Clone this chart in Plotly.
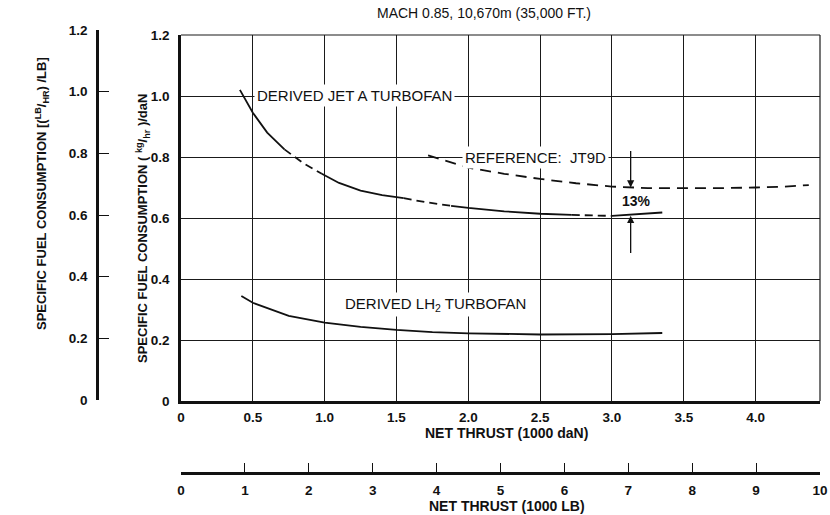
import plotly.graph_objects as go

# ---------------- data ----------------
# Derived Jet A turbofan: SFC (kg/hr)/daN vs net thrust (1000 daN)
jet_a_x = [0.41, 0.50, 0.60, 0.72, 0.85, 0.98, 1.10, 1.25, 1.40, 1.55,
           1.70, 1.88, 2.00, 2.25, 2.50, 2.72, 2.85, 3.00, 3.20, 3.35]
jet_a_y = [1.02, 0.945, 0.88, 0.825, 0.78, 0.745, 0.715, 0.69, 0.675, 0.665,
           0.652, 0.64, 0.633, 0.622, 0.614, 0.61, 0.608, 0.607, 0.612, 0.618]
# (start index, end index, dashed?) pieces of the Jet A curve
jet_a_pieces = [(0, 3, False), (3, 5, True), (5, 9, False), (9, 11, True),
                (11, 15, False), (15, 17, True), (17, 19, False)]

# Reference JT9D (dashed)
jt9d_x = [1.72, 2.00, 2.25, 2.50, 2.75, 3.00, 3.25, 3.50, 3.75, 4.00, 4.20, 4.37]
jt9d_y = [0.805, 0.765, 0.745, 0.728, 0.714, 0.703, 0.698, 0.697, 0.698, 0.700, 0.703, 0.708]

# Derived LH2 turbofan
lh2_x = [0.42, 0.50, 0.75, 1.00, 1.25, 1.50, 1.75, 2.00, 2.50, 3.00, 3.35]
lh2_y = [0.344, 0.322, 0.279, 0.257, 0.243, 0.233, 0.226, 0.222, 0.218, 0.219, 0.223]

# 13% annotation arrows
arrow_x = 3.13
arrow_down = (0.825, 0.700)   # tail, tip
arrow_up = (0.48, 0.607)      # tail, tip
pct_label = ("13%", 3.17, 0.655)

# axes / ticks
x_ticks = [0, 0.5, 1.0, 1.5, 2.0, 2.5, 3.0, 3.5, 4.0]
x_ticktext = ["0", "0.5", "1.0", "1.5", "2.0", "2.5", "3.0", "3.5", "4.0"]
y_ticks = [0, 0.2, 0.4, 0.6, 0.8, 1.0, 1.2]
y_ticktext = ["0", "0.2", "0.4", "0.6", "0.8", "1.0", "1.2"]
lb_ticks = [0, 1, 2, 3, 4, 5, 6, 7, 8, 9, 10]
lb_ticktext = [str(v) for v in lb_ticks]
lb_max = 10.0                 # 1000 LB
daN_per_lb = 0.4448           # 1000 LB -> 1000 daN
x_max = lb_max * daN_per_lb
y_max = 1.2

title_text = "MACH 0.85, 10,670m (35,000 FT.)"
labels = [
    ("DERIVED JET A TURBOFAN", 1.21, 1.00),
    ("REFERENCE:  JT9D", 2.47, 0.80),
    ("DERIVED LH<sub>2</sub> TURBOFAN", 1.77, 0.318),
]

# ---------------- layout helpers ----------------
W, H = 830, 515
FONT = "Liberation Sans, Arial, Helvetica, sans-serif"
INK = "#111111"
GRID = "#1a1a1a"


def px(xp):
    return xp / W


def py(yp):
    return 1 - yp / H


fig = go.Figure()

for s, e, dashed in jet_a_pieces:
    fig.add_trace(go.Scatter(
        x=jet_a_x[s:e + 1], y=jet_a_y[s:e + 1], mode="lines",
        line=dict(color=INK, width=1.8, dash="8px,5px" if dashed else "solid"),
        showlegend=False, hoverinfo="skip"))

fig.add_trace(go.Scatter(
    x=jt9d_x, y=jt9d_y, mode="lines",
    line=dict(color=INK, width=1.8, dash="11px,7px"),
    showlegend=False, hoverinfo="skip"))

fig.add_trace(go.Scatter(
    x=lh2_x, y=lh2_y, mode="lines",
    line=dict(color=INK, width=1.8),
    showlegend=False, hoverinfo="skip"))

# placeholder trace so the secondary (English-unit) axes are drawn
fig.add_trace(go.Scatter(x=[None], y=[None], xaxis="x2", yaxis="y2",
                         showlegend=False, hoverinfo="skip"))

x_dom = [px(181), px(820)]
y_dom = [py(401), py(35)]


def paper_text(text, xp, yp, size, angle=0):
    return dict(text=text, x=px(xp), y=py(yp), xref="paper", yref="paper",
                xanchor="center", yanchor="middle", textangle=angle,
                showarrow=False, font=dict(size=size, color=INK, family=FONT))


annotations = [paper_text(title_text, 484, 13, 14)]
for t, xv, yv in labels:
    annotations.append(dict(text=t, x=xv, y=yv, xref="x", yref="y", showarrow=False,
                            xanchor="center", yanchor="middle",
                            bgcolor="white", borderpad=2,
                            font=dict(size=15, color=INK, family=FONT)))
annotations.append(dict(text="<b>" + pct_label[0] + "</b>", x=pct_label[1], y=pct_label[2],
                        xref="x", yref="y", showarrow=False, bgcolor="white", borderpad=1,
                        xanchor="center", yanchor="middle",
                        font=dict(size=14, color=INK, family=FONT)))
for tail, tip in (arrow_down, arrow_up):
    annotations.append(dict(text="", x=arrow_x, y=tip, ax=arrow_x, ay=tail,
                            xref="x", yref="y", axref="x", ayref="y", showarrow=True,
                            arrowhead=2, arrowsize=1.1, arrowwidth=1.3, arrowcolor=INK))
# axis titles
annotations.append(paper_text(
    "<b>SPECIFIC FUEL CONSUMPTION ( <sup>kg</sup>/<sub>hr</sub> )/daN</b>", 143, 229, 13, -90))
annotations.append(paper_text(
    "<b>SPECIFIC FUEL CONSUMPTION [(<sup>LB</sup>/<sub>HR</sub>) /LB]</b>", 42, 194, 13, -90))
annotations.append(paper_text("<b>NET THRUST (1000 daN)</b>", 506, 433, 14))
annotations.append(paper_text("<b>NET THRUST (1000 LB)</b>", 507, 506, 14))

shapes = [
    dict(type="line", xref="x domain", yref="y domain", x0=0, x1=1, y0=1, y1=1,
         line=dict(color=GRID, width=1.2)),
    dict(type="line", xref="x domain", yref="y domain", x0=1, x1=1, y0=0, y1=1,
         line=dict(color=GRID, width=1.2)),
]

tickfont = dict(size=13.5, color=INK, family=FONT, weight="bold")

fig.update_layout(
    width=W, height=H, autosize=False,
    margin=dict(l=0, r=0, t=0, b=0, pad=0),
    paper_bgcolor="white", plot_bgcolor="rgba(0,0,0,0)",
    font=dict(family=FONT, color=INK),
    showlegend=False,
    annotations=annotations,
    shapes=shapes,
    xaxis=dict(domain=x_dom, range=[0, x_max], anchor="y", automargin=False,
               tickvals=x_ticks, ticktext=x_ticktext, ticks="", ticklabelstandoff=2,
               showline=True, linecolor=INK, linewidth=2.5,
               showgrid=True, gridcolor=GRID, gridwidth=1.1, zeroline=False,
               tickfont=tickfont, fixedrange=True),
    yaxis=dict(domain=y_dom, range=[0, y_max], anchor="x", automargin=False,
               tickvals=y_ticks, ticktext=y_ticktext, ticks="", ticklabelstandoff=6,
               showline=True, linecolor=INK, linewidth=2.5,
               showgrid=True, gridcolor=GRID, gridwidth=1.1, zeroline=False,
               tickfont=tickfont, fixedrange=True),
    xaxis2=dict(domain=x_dom, range=[0, lb_max], anchor="free", position=py(473),
                side="bottom", tickvals=lb_ticks, ticktext=lb_ticktext, automargin=False,
                ticks="inside", ticklen=9, tickwidth=1.2, tickcolor=INK,
                ticklabelstandoff=4,
                showline=True, linecolor=INK, linewidth=2.5, showgrid=False,
                zeroline=False, tickfont=tickfont, fixedrange=True),
    yaxis2=dict(domain=[py(400), py(30)], range=[0, y_max], anchor="free",
                position=px(97), side="left", tickvals=y_ticks, ticktext=y_ticktext,
                automargin=False,
                ticks="inside", ticklen=10, tickwidth=1.2, tickcolor=INK,
                ticklabelstandoff=6,
                showline=True, linecolor=INK, linewidth=2.5, showgrid=False,
                zeroline=False, tickfont=tickfont, fixedrange=True),
)

fig.write_html("out.html")
